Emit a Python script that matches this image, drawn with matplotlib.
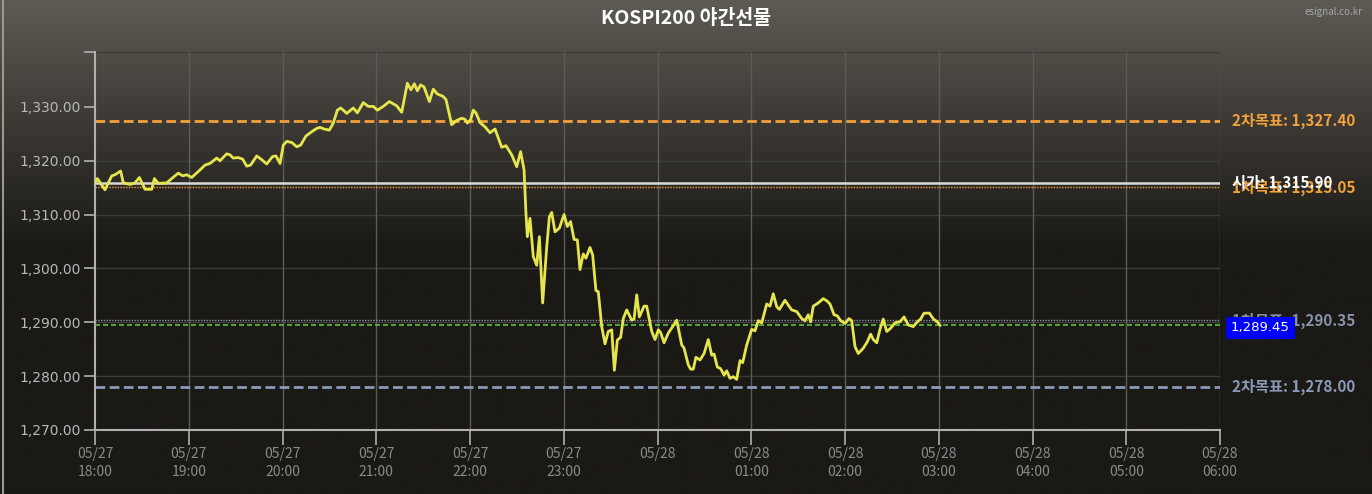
import matplotlib
matplotlib.use('Agg')

import numpy as np
import matplotlib.pyplot as plt
import matplotlib.transforms as mtransforms

plt.rcParams['font.family'] = ['Noto Sans CJK KR', 'DejaVu Sans']

# minutes after 05/27 18:00
minutes = [0, 1.5, 6.4, 10.7, 12.8, 16.4, 18.1, 22.4, 25.6, 28.4, 32, 36.3, 38, 40.5, 45.9,
           49.1, 53.3, 56.1, 58.7, 61.9, 67.2, 70.4, 73.6, 77.9, 80, 84.3, 86.4, 88.5, 91.7,
           94.5, 97.1, 99.6, 103.5, 106.7, 109.9, 113.7, 115.8, 118.4, 120.5, 122.7, 125.9,
           129.1, 131.6, 135, 138.7, 141.9, 144, 146.6, 150, 152.5, 155.1, 157.2, 158.9,
           161.1, 165.3, 167.9, 171.7, 174.9, 178.1, 180.7, 184.5, 188.4, 193.1, 196.3,
           199.9, 202.2, 204.4, 206.3, 208.4, 210.6, 214, 216.5, 219.1, 222.5, 224.6, 228.3,
           231.5, 234.7, 236.8, 238.3, 240.4, 242.1, 243.8, 246.4, 249.6, 252.8, 256, 260.3,
           263, 266.7, 269.9, 272.4, 274.6, 275.8, 276.7, 278.4, 280.5, 282.7, 284.4, 286.5,
           289.1, 290.8, 292.3, 294.4, 297.2, 300.2, 302.3, 304.4, 306.6, 308.7, 310.4,
           312.5, 314.2, 316.8, 318.5, 320.6, 322.1, 324.3, 326.4, 328.5, 330.7, 332.4,
           334.3, 336.4, 338.1, 340.3, 343.5, 345, 346.7, 348.4, 351.4, 353.1, 356.3, 358.4,
           360.5, 362, 364.2, 366.9, 369.7, 372.3, 375.5, 377, 379.7, 381.2, 382.9, 384.6,
           387.2, 389.8, 392.5, 394.7, 396.2, 398.3, 400.4, 402.6, 404.3, 406.4, 408.5,
           410.7, 412.8, 414.5, 417.1, 420.3, 422.4, 424.5, 426.7, 429.9, 432, 434.1, 436.3,
           438, 441.6, 443.7, 445.9, 449.1, 452.3, 454.4, 456.5, 458, 459.7, 462.9, 466.1,
           468.3, 470.4, 473, 475.1, 477.2, 480, 482.6, 484.3, 486.4, 488.5, 491.7, 494.3,
           496.4, 498.1, 500.3, 502.4, 504.5, 506.7, 509.2, 512, 515.2, 517.8, 520.5, 523.7,
           526.3, 528.4, 530.6, 534, 536.6, 539.1, 540.8]
prices = [1315.9, 1316.7, 1314.6, 1317.2, 1317.4, 1318.1, 1315.9, 1315.6, 1315.9, 1316.9,
          1314.7, 1314.7, 1316.7, 1315.8, 1315.9, 1316.7, 1317.7, 1317.2, 1317.4, 1316.9,
          1318.3, 1319.2, 1319.5, 1320.5, 1320.0, 1321.3, 1321.1, 1320.5, 1320.6, 1320.3,
          1319.0, 1319.2, 1320.9, 1320.2, 1319.4, 1320.8, 1320.9, 1319.5, 1322.9, 1323.6,
          1323.4, 1322.6, 1322.9, 1324.6, 1325.4, 1326.0, 1326.2, 1325.9, 1325.7, 1327.0,
          1329.4, 1329.8, 1329.4, 1328.8, 1329.8, 1328.9, 1330.8, 1330.1, 1330.1, 1329.4,
          1330.1, 1331.0, 1330.2, 1329.0, 1334.4, 1333.2, 1334.3, 1333.0, 1334.1, 1333.7,
          1331.0, 1333.3, 1332.4, 1332.0, 1331.4, 1326.7, 1327.5, 1327.9, 1327.7, 1327.0,
          1327.6, 1329.4, 1328.9, 1327.1, 1326.3, 1325.2, 1325.9, 1322.5, 1322.8, 1321.1,
          1318.9, 1321.7, 1318.3, 1310.3, 1305.9, 1309.3, 1302.2, 1300.6, 1305.9, 1293.6,
          1304.0, 1309.6, 1310.4, 1306.8, 1307.5, 1310.0, 1307.8, 1308.7, 1305.4, 1305.3,
          1299.8, 1302.7, 1301.9, 1303.9, 1302.5, 1295.9, 1295.7, 1289.2, 1286.0, 1288.3,
          1288.6, 1281.1, 1286.7, 1287.2, 1290.7, 1292.3, 1290.4, 1290.6, 1295.1, 1291.0,
          1293.0, 1293.0, 1288.3, 1286.8, 1288.6, 1288.1, 1286.2, 1288.0, 1289.2, 1290.4,
          1285.8, 1285.2, 1282.1, 1281.3, 1281.3, 1283.5, 1283.0, 1284.2, 1286.8, 1283.9,
          1284.1, 1281.7, 1281.4, 1280.2, 1281.0, 1279.6, 1279.9, 1279.4, 1282.9, 1282.5,
          1285.8, 1288.7, 1288.4, 1290.3, 1289.9, 1293.4, 1293.0, 1295.3, 1292.9, 1292.4,
          1294.1, 1293.2, 1292.3, 1292.0, 1290.7, 1290.3, 1291.4, 1290.1, 1293.0, 1293.6,
          1294.4, 1294.0, 1293.4, 1291.4, 1291.2, 1290.3, 1289.8, 1290.7, 1290.3, 1285.5,
          1284.2, 1285.2, 1286.4, 1287.8, 1286.8, 1286.2, 1288.7, 1290.6, 1288.3, 1288.9,
          1289.9, 1290.1, 1291.0, 1289.5, 1289.2, 1290.1, 1290.6, 1291.7, 1291.7, 1290.6,
          1290.1, 1289.45]

hour_ticks = list(range(0, 721, 60))
hour_labels = ['05/27\n18:00', '05/27\n19:00', '05/27\n20:00', '05/27\n21:00',
               '05/27\n22:00', '05/27\n23:00', '05/28\n ', '05/28\n01:00',
               '05/28\n02:00', '05/28\n03:00', '05/28\n04:00', '05/28\n05:00',
               '05/28\n06:00']
y_ticks = [1270, 1280, 1290, 1300, 1310, 1320, 1330]
y_top = 1340.2

# reference levels: (value, label, colour, linestyle, width)
open_price = 1315.90
last_price = 1289.45
levels = [
    (1327.40, '2차목표: 1,327.40', '#f2a03a', (0, (3.5, 1.6)), 2.0),
    (1315.05, '1차목표: 1,315.05', '#f2a03a', (0, (1, 1)), 1.0),
    (1290.35, '1차목표: 1,290.35', '#8592a8', (0, (1, 1)), 1.0),
    (1278.00, '2차목표: 1,278.00', '#8a9ab8', (0, (3.5, 1.6)), 2.0),
]

fig = plt.figure(figsize=(13.72, 4.94), dpi=100)

# background gradient
bg = fig.add_axes([0, 0, 1, 1], zorder=0)
rows = np.linspace(0, 1, 494)
t = np.clip(rows / 0.5, 0, 1)
top_c = np.array([94, 90, 84]) / 255
bot_c = np.array([27, 25, 21]) / 255
grad = top_c[None, :] * (1 - t[:, None]) + bot_c[None, :] * t[:, None]
bg.imshow(grad[:, None, :], aspect='auto', extent=[0, 1, 0, 1])
bg.axvline(0.002, color='#9a9890', lw=1.5)
bg.set_axis_off()

ax = fig.add_axes([95 / 1372, 1 - 430 / 494, 1125 / 1372, 378 / 494], zorder=1)
ax.set_facecolor('none')
ax.set_xlim(0, 720)
ax.set_ylim(1270, y_top)

for yv in y_ticks[1:] + [y_top]:
    ax.axhline(yv, color='#3d3b37', lw=1, zorder=1)
for xv in hour_ticks[1:]:
    ax.axvline(xv, color='#5c5b58', lw=1, zorder=1)

for val, lab, col, ls, lw in levels:
    ax.axhline(val, color=col, ls=ls, lw=lw, zorder=2)
ax.axhline(open_price, color='#d8d8d8', lw=1.8, zorder=3)
ax.axhline(last_price, color='#5cc03c', ls=(0, (3, 1.8)), lw=1.2, zorder=3)

ax.plot(minutes, prices, color='#e6e64c', lw=2, zorder=4)

for side in ['top', 'right']:
    ax.spines[side].set_visible(False)
for side in ['left', 'bottom']:
    ax.spines[side].set_color('#b0b0b0')
    ax.spines[side].set_linewidth(1.5)

ax.set_yticks(y_ticks + [y_top])
ax.set_yticklabels(['{:,.2f}'.format(v) for v in y_ticks] + [''], family='DejaVu Sans')
ax.set_xticks(hour_ticks)
ax.set_xticklabels(hour_labels, linespacing=1.35)
ax.tick_params(axis='y', colors='#b0b0b0', labelcolor='#b8b8b8', labelsize=10,
               length=8, width=1.2, pad=2)
ax.tick_params(axis='x', colors='#b0b0b0', labelcolor='#8a8a8a', labelsize=10,
               length=11, width=1.2, pad=1)

trans = mtransforms.blended_transform_factory(ax.transAxes, ax.transData)
tx = 1.0107
for val, lab, col, ls, lw in levels:
    ax.text(tx, val, lab, transform=trans, color=col, fontsize=11, fontweight='bold',
            va='center', ha='left', clip_on=False, zorder=5)
ax.text(tx, open_price, '시가: 1,315.90', transform=trans, color='white', fontsize=11,
        fontweight='bold', va='center', ha='left', clip_on=False, zorder=6)
ax.text(1.0098, last_price - 0.5, '{:,.2f}'.format(last_price), transform=trans,
        color='white', fontsize=9.5, family='DejaVu Sans', va='center', ha='left',
        clip_on=False, zorder=7,
        bbox=dict(boxstyle='square,pad=0.35', facecolor='#0000ff', edgecolor='none'))

fig.text(0.5, 1 - 18 / 494, 'KOSPI200 야간선물', color='white', fontsize=14,
         fontweight='bold', ha='center', va='center')
fig.text(1362 / 1372, 1 - 12 / 494, 'esignal.co.kr', color='#a8a8a8', fontsize=7,
         ha='right', va='center')

fig.savefig('out.png', dpi=100)
